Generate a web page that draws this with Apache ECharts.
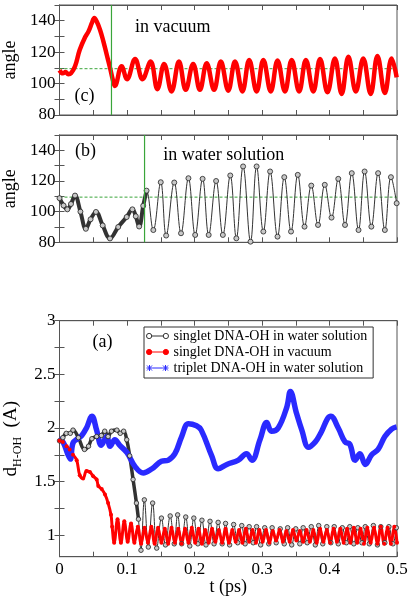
<!DOCTYPE html>
<html><head><meta charset="utf-8">
<script src="https://cdn.jsdelivr.net/npm/echarts@6/dist/echarts.min.js"></script>
<style>html,body{margin:0;padding:0;background:#fff}#c{width:415px;height:601px}</style>
</head><body><div id="c"></div>
<script>
// ---- data ----
const angleTickLabels = [80, 100, 120, 140];
const distTickLabels = [1, 1.5, 2, 2.5, 3];
const distTicks = [1, 1.25, 1.5, 1.75, 2, 2.25, 2.5, 2.75, 3];
const timeTickLabels = [0, 0.1, 0.2, 0.3, 0.4, 0.5];
const tetrahedralAngle = 109.47;
const switchTimeVacuum = 0.077;
const switchTimeWater = 0.126;
const legendNames = ['singlet DNA-OH in water solution', 'singlet DNA-OH in vacuum', 'triplet DNA-OH in water solution'];

// (c) angle, singlet in vacuum  [t (ps), angle]
const angleVacuum = [[0,108.5],[0.005,106.5],[0.009,107.3],[0.013,106],[0.017,106.5],[0.023,111],[0.030,121.5],[0.038,129.6],[0.043,133.2],[0.048,138.6],[0.0516,141.8],[0.055,139.6],[0.060,134.3],[0.065,126.9],[0.070,118.3],[0.075,109.8],[0.079,102.4],[0.082,98.5],[0.092,111],[0.100,102.8],[0.112,115.6],[0.123,102.8],[0.135,114],[0.145,96.4],[0.155,112.5],[0.166,95],[0.177,114],[0.187,96],[0.198,112.5],[0.208,96],[0.218,113],[0.229,96],[0.239,114],[0.250,95.5],[0.260,114],[0.271,95],[0.281,115],[0.292,95],[0.302,115],[0.313,95],[0.323,114.7],[0.334,95],[0.344,115],[0.355,95],[0.365,115],[0.376,95],[0.386,115.6],[0.397,94.5],[0.408,116],[0.418,93.4],[0.428,117],[0.439,95],[0.450,116],[0.461,93.4],[0.471,117.5],[0.482,94],[0.492,116],[0.4995,104]];

// (b) angle, singlet in water solution
const angleWaterEarly = [[0,108.8],[0.006,104],[0.0116,101.5],[0.017,105],[0.023,110.5],[0.031,100],[0.039,88.8],[0.046,95],[0.054,99.8],[0.064,91],[0.0748,82.5],[0.087,90],[0.0995,96.5],[0.108,101.5],[0.113,97],[0.118,90.3],[0.124,103.8],[0.129,113.7]];
const angleWaterLate = [[0.139,88],[0.150,119.2],[0.158,84.4],[0.170,119],[0.180,85.9],[0.191,121.8],[0.201,84.8],[0.212,121.4],[0.221,84.8],[0.232,120],[0.242,84.8],[0.253,123.6],[0.262,82.6],[0.272,129.5],[0.283,80.4],[0.292,129.5],[0.302,87],[0.312,126.2],[0.323,83.7],[0.333,122.5],[0.343,87],[0.353,124],[0.363,90.2],[0.373,117],[0.383,91.3],[0.393,117.5],[0.403,96.1],[0.413,121.4],[0.423,91.3],[0.433,125.1],[0.443,88],[0.452,126.2],[0.462,90.2],[0.472,125.1],[0.482,88],[0.491,122.5],[0.4995,105.5]];

// (a) d(H-OH)
const dSingletWaterEarly = [[0,1.88],[0.005,1.91],[0.010,1.95],[0.016,1.95],[0.020,1.98],[0.028,1.91],[0.037,1.80],[0.043,1.83],[0.048,1.90],[0.055,1.92],[0.062,1.93],[0.067,1.97],[0.072,1.92],[0.077,1.97],[0.085,1.98],[0.090,1.95],[0.095,1.97],[0.0996,1.89],[0.104,1.74],[0.109,1.52],[0.114,1.30],[0.117,1.15]];
const dSingletWaterLate = [[0.1207,0.86],[0.1257,1.33],[0.1316,0.89],[0.138,1.30],[0.144,0.88],[0.151,1.16],[0.157,0.91],[0.164,1.18],[0.170,0.92],[0.175,1.19],[0.181,0.92],[0.187,1.17],[0.193,0.90],[0.199,1.16],[0.205,0.92],[0.211,1.14],[0.217,0.91],[0.223,1.13],[0.229,0.92],[0.235,1.12],[0.241,0.92],[0.246,1.11],[0.252,0.91],[0.258,1.10],[0.264,0.93],[0.270,1.09],[0.275,0.92],[0.281,1.08],[0.287,0.93],[0.292,1.08],[0.298,0.91],[0.304,1.07],[0.310,0.92],[0.315,1.07],[0.321,0.93],[0.327,1.06],[0.333,0.92],[0.338,1.07],[0.344,0.91],[0.350,1.06],[0.356,0.92],[0.361,1.07],[0.367,0.93],[0.373,1.08],[0.379,0.91],[0.384,1.09],[0.390,0.92],[0.396,1.08],[0.402,0.93],[0.407,1.08],[0.413,0.92],[0.419,1.07],[0.425,0.93],[0.430,1.08],[0.436,0.92],[0.442,1.07],[0.448,0.93],[0.453,1.08],[0.459,0.92],[0.465,1.09],[0.471,0.91],[0.476,1.08],[0.482,0.93],[0.488,1.08],[0.494,0.92],[0.499,1.07]];
const dSingletVacuum = [[0,1.88],[0.005,1.87],[0.0106,1.83],[0.015,1.80],[0.020,1.75],[0.0255,1.70],[0.030,1.56],[0.035,1.53],[0.040,1.60],[0.045,1.59],[0.050,1.55],[0.055,1.52],[0.0575,1.46],[0.0625,1.43],[0.0674,1.38],[0.072,1.30],[0.0763,1.19],[0.078,1.08],
[0.081,0.93],[0.086,1.15],[0.091,0.93],[0.096,1.13],[0.101,0.94],[0.106,1.11],[0.111,0.93],[0.116,1.08],[0.121,0.92],[0.126,1.07],[0.131,0.93],[0.136,1.08],[0.141,0.92],[0.146,1.07],[0.151,0.93],[0.156,1.06],[0.161,0.92],[0.166,1.07],[0.171,0.93],[0.176,1.06],[0.181,0.92],[0.186,1.06],[0.191,0.93],[0.196,1.07],[0.201,0.93],[0.206,1.06],[0.211,0.92],[0.216,1.05],[0.221,0.93],[0.226,1.06],[0.231,0.94],[0.236,1.05],[0.241,0.93],[0.246,1.06],[0.251,0.93],[0.256,1.05],[0.261,0.94],[0.266,1.05],[0.271,0.93],[0.276,1.06],[0.281,0.94],[0.286,1.05],[0.291,0.93],[0.296,1.05],[0.301,0.94],[0.306,1.05],[0.311,0.93],[0.316,1.04],[0.321,0.95],[0.326,1.05],[0.331,0.94],[0.336,1.04],[0.341,0.94],[0.346,1.05],[0.351,0.95],[0.356,1.04],[0.361,0.94],[0.366,1.05],[0.371,0.94],[0.376,1.05],[0.381,0.93],[0.386,1.06],[0.391,0.94],[0.396,1.05],[0.401,0.93],[0.406,1.06],[0.411,0.94],[0.416,1.06],[0.421,0.93],[0.426,1.06],[0.431,0.93],[0.436,1.07],[0.441,0.93],[0.446,1.06],[0.451,0.92],[0.456,1.07],[0.461,0.93],[0.466,1.07],[0.471,0.92],[0.476,1.08],[0.481,0.92],[0.486,1.07],[0.491,0.92],[0.496,1.08],[0.5,0.93]];
const dTripletWater = [[0,1.91],[0.006,1.86],[0.012,1.76],[0.016,1.71],[0.020,1.86],[0.027,1.90],[0.033,1.93],[0.040,2.0],[0.048,2.11],[0.055,1.98],[0.062,1.84],[0.070,1.92],[0.075,1.83],[0.082,1.89],[0.089,1.84],[0.100,1.77],[0.112,1.64],[0.124,1.58],[0.137,1.62],[0.151,1.69],[0.161,1.70],[0.171,1.76],[0.181,1.92],[0.191,2.04],[0.203,2.02],[0.210,1.98],[0.2255,1.74],[0.235,1.62],[0.248,1.66],[0.265,1.70],[0.277,1.76],[0.285,1.70],[0.297,1.89],[0.307,2.05],[0.314,1.97],[0.324,2.0],[0.337,2.2],[0.342,2.34],[0.351,2.14],[0.359,1.98],[0.369,1.82],[0.379,1.87],[0.386,1.94],[0.402,2.11],[0.413,2.0],[0.423,1.87],[0.430,1.85],[0.438,1.70],[0.445,1.76],[0.453,1.66],[0.4625,1.75],[0.472,1.80],[0.482,1.92],[0.492,1.99],[0.4995,2.01]];

// ---- chart ----
const FONT = 'Liberation Serif';
const AX = '#555';
const GREEN = '#3aa53a';
const gridL = 59.5, gridW = 337.5;
const tMin = 0, tMax = 0.5, angMin = 80, angMax = 150;

function timeAxis(gridIndex, pos, showLabels, name) {
  const a = {
    type: 'value', gridIndex, position: pos, min: tMin, max: tMax, interval: 0.05,
    axisLine: { show: true, lineStyle: { color: AX, width: 1 } },
    axisTick: { show: true, inside: true, length: 5, lineStyle: { color: AX } },
    splitLine: { show: false },
    axisLabel: { show: showLabels, margin: 4, color: '#000', fontFamily: FONT, fontSize: 17,
      formatter: v => { const r = Math.round(v * 100) / 100; return timeTickLabels.includes(r) ? String(r) : ''; } }
  };
  if (name) Object.assign(a, { name, nameLocation: 'middle', nameGap: 20,
    nameTextStyle: { color: '#000', fontFamily: FONT, fontSize: 18 } });
  return a;
}
function angleAxis(gridIndex, pos, showLabels) {
  const a = {
    type: 'value', gridIndex, position: pos, min: angMin, max: angMax, interval: 10,
    axisLine: { show: true, lineStyle: { color: AX, width: 1 } },
    axisTick: { show: true, inside: true, length: 5, lineStyle: { color: AX } },
    splitLine: { show: false },
    axisLabel: { show: showLabels, margin: 4, color: '#000', fontFamily: FONT, fontSize: 17,
      formatter: v => angleTickLabels.includes(v) ? String(v) : '' }
  };
  if (showLabels) Object.assign(a, { name: 'angle', nameLocation: 'middle', nameGap: 35,
    nameTextStyle: { color: '#000', fontFamily: FONT, fontSize: 18 } });
  return a;
}
function distAxis(gridIndex, pos, showLabels) {
  const a = {
    type: 'value', gridIndex, position: pos, min: 0.8, max: 3,
    axisLine: { show: true, lineStyle: { color: AX, width: 1 } },
    axisTick: { show: true, inside: true, length: 5, customValues: distTicks, lineStyle: { color: AX } },
    splitLine: { show: false },
    axisLabel: { show: showLabels, margin: 4, color: '#000', fontFamily: FONT, fontSize: 17, customValues: distTickLabels }
  };
  if (showLabels) Object.assign(a, {
    name: '{m|d}{s|H-OH}{m|  (A)}', nameLocation: 'middle', nameGap: 28,
    nameTextStyle: { color: '#000', fontFamily: FONT, fontSize: 19,
      rich: { m: { fontFamily: FONT, fontSize: 19, color: '#000' },
              s: { fontFamily: FONT, fontSize: 12, color: '#000', padding: [12, 0, 0, 0] } } } });
  return a;
}
function refSeries(axisIdx, t) {
  return [
    { type: 'line', name: 'vline' + axisIdx, xAxisIndex: axisIdx, yAxisIndex: axisIdx, silent: true, z: 3,
      data: [[t, angMin], [t, angMax]], symbol: 'none', color: GREEN, lineStyle: { color: GREEN, width: 1.2 } },
    { type: 'line', name: 'hline' + axisIdx, xAxisIndex: axisIdx, yAxisIndex: axisIdx, silent: true, z: 1,
      data: [[tMin, tetrahedralAngle], [tMax, tetrahedralAngle]], symbol: 'none', color: GREEN,
      lineStyle: { color: GREEN, width: 1, type: [3, 2] } }
  ];
}

const iconCircleOpen = 'path://M3,0.5A2.5,2.5,0,1,1,3,5.5A2.5,2.5,0,1,1,3,0.5Z M19,0.5A2.5,2.5,0,1,1,19,5.5A2.5,2.5,0,1,1,19,0.5Z M5.5,3L16.5,3';
const iconStar = 'path://M0.5,0.5L5.5,5.5M5.5,0.5L0.5,5.5M3,0L3,6M0,3L6,3 M16.5,0.5L21.5,5.5M21.5,0.5L16.5,5.5M19,0L19,6M16,3L22,3 M6,3L16,3';

const gridBase = { left: gridL, width: gridW, show: true, borderColor: AX, borderWidth: 1, containLabel: false, outerBoundsMode: 'none' };

const option = {
  animation: false,
  backgroundColor: '#fff',
  grid: [
    Object.assign({}, gridBase, { top: 5, height: 110 }),
    Object.assign({}, gridBase, { top: 135, height: 107.3 }),
    Object.assign({}, gridBase, { top: 320.7, height: 236 })
  ],
  xAxis: [ timeAxis(0, 'bottom', false), timeAxis(0, 'top', false),
           timeAxis(1, 'bottom', false), timeAxis(1, 'top', false),
           timeAxis(2, 'bottom', true, 't (ps)'), timeAxis(2, 'top', false) ],
  yAxis: [ angleAxis(0, 'left', true), angleAxis(0, 'right', false),
           angleAxis(1, 'left', true), angleAxis(1, 'right', false),
           distAxis(2, 'left', true), distAxis(2, 'right', false) ],
  legend: {
    left: 144, top: 327, orient: 'vertical', selectedMode: false,
    borderColor: '#333', borderWidth: 1, padding: [2, 6, 3, 2], itemGap: 2,
    itemWidth: 22, itemHeight: 6,
    textStyle: { fontFamily: FONT, fontSize: 14, color: '#000' },
    data: [
      { name: legendNames[0], icon: iconCircleOpen, itemStyle: { color: 'rgba(0,0,0,0)', borderColor: '#333', borderWidth: 1 } },
      { name: legendNames[1], icon: iconCircleOpen, itemStyle: { color: '#f00', borderColor: '#f00', borderWidth: 1 } },
      { name: legendNames[2], icon: iconStar, itemStyle: { color: 'rgba(0,0,0,0)', borderColor: '#2a2aff', borderWidth: 1 } }
    ]
  },
  graphic: [
    { type: 'text', x: 84.5, y: 96.7, style: { text: '(c)', font: '18px "Liberation Serif"', fill: '#000', align: 'center', verticalAlign: 'middle' } },
    { type: 'text', x: 135, y: 27, style: { text: 'in vacuum', font: '18px "Liberation Serif"', fill: '#000', align: 'left', verticalAlign: 'middle' } },
    { type: 'text', x: 85.5, y: 151, style: { text: '(b)', font: '18px "Liberation Serif"', fill: '#000', align: 'center', verticalAlign: 'middle' } },
    { type: 'text', x: 163.3, y: 155, style: { text: 'in water solution', font: '18px "Liberation Serif"', fill: '#000', align: 'left', verticalAlign: 'middle' } },
    { type: 'text', x: 102.5, y: 342.7, style: { text: '(a)', font: '18px "Liberation Serif"', fill: '#000', align: 'center', verticalAlign: 'middle' } }
  ],
  series: [
    ...refSeries(0, switchTimeVacuum),
    { type: 'line', name: 'c', xAxisIndex: 0, yAxisIndex: 0, data: angleVacuum, smooth: 0.4, z: 2,
      symbol: 'none', color: '#f00', lineStyle: { color: '#f00', width: 4.5 } },
    ...refSeries(2, switchTimeWater),
    { type: 'line', name: 'b-early', xAxisIndex: 2, yAxisIndex: 2, data: angleWaterEarly, smooth: 0.4, z: 2,
      symbol: 'none', color: '#333', lineStyle: { color: '#333', width: 4 } },
    { type: 'line', name: 'b', xAxisIndex: 2, yAxisIndex: 2, data: angleWaterEarly.concat(angleWaterLate), smooth: 0.4, z: 2,
      symbol: 'circle', symbolSize: 5, showAllSymbol: true, color: '#333',
      itemStyle: { color: '#c8c8c8', borderColor: '#222', borderWidth: 0.8 },
      lineStyle: { color: '#333', width: 1 } },
    { type: 'line', name: 'a-early', xAxisIndex: 4, yAxisIndex: 4, data: dSingletWaterEarly, smooth: 0.4,
      symbol: 'none', color: '#333', lineStyle: { color: '#333', width: 3.5 } },
    { type: 'line', name: legendNames[0], xAxisIndex: 4, yAxisIndex: 4, data: dSingletWaterEarly.concat(dSingletWaterLate), smooth: 0.4,
      symbol: 'circle', symbolSize: 4.5, showAllSymbol: true, color: '#333',
      itemStyle: { color: '#c8c8c8', borderColor: '#222', borderWidth: 0.8 },
      lineStyle: { color: '#333', width: 1 } },
    { type: 'line', name: legendNames[1], xAxisIndex: 4, yAxisIndex: 4, data: dSingletVacuum, smooth: 0.4,
      symbol: 'circle', symbolSize: 4, showAllSymbol: true, color: '#f00',
      itemStyle: { color: '#f00' }, lineStyle: { color: '#f00', width: 3 } },
    { type: 'line', name: legendNames[2], xAxisIndex: 4, yAxisIndex: 4, data: dTripletWater, smooth: 0.4,
      symbol: 'none', color: '#2a2aff', lineStyle: { color: '#2a2aff', width: 5.5 } }
  ]
};
const chart = echarts.init(document.getElementById('c'), null, { renderer: 'canvas' });
chart.setOption(option);
</script>
</body></html>
